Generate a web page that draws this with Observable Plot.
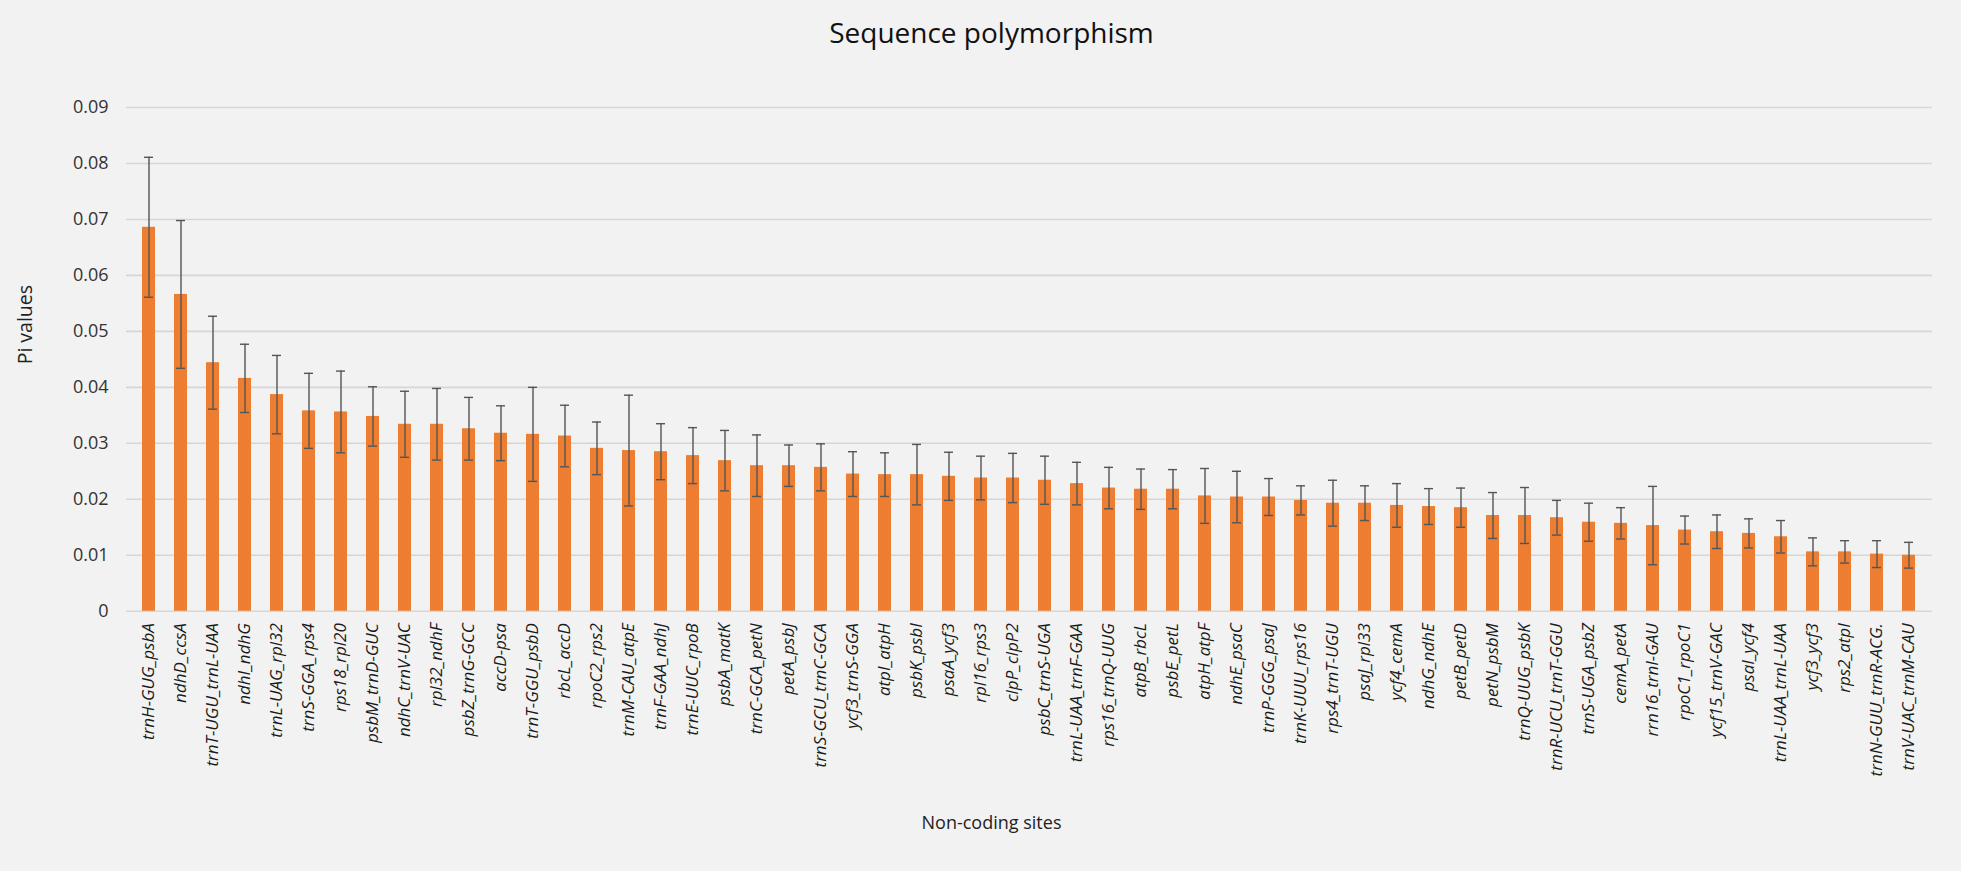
<!DOCTYPE html>
<html>
<head>
<meta charset="utf-8">
<script src="https://cdn.jsdelivr.net/npm/d3@7"></script>
<script src="https://cdn.jsdelivr.net/npm/@observablehq/plot@0.6"></script>
<style>
  html, body { margin: 0; padding: 0; background: #f2f2f2; }
  body { width: 1961px; height: 871px; overflow: hidden; font-family: "Open Sans", sans-serif; }
  #title { height: 64px; line-height: 64px; text-align: center; font-size: 28px; color: #111; padding-left: 22px; }
  #xtitle { height: 20px; line-height: 20px; text-align: center; font-size: 18px; color: #222; padding-left: 22px; }
  #chart svg { display: block; background: transparent; }
</style>
</head>
<body>
<div id="title">Sequence polymorphism</div>
<div id="chart"></div>
<div id="xtitle">Non-coding sites</div>
<script>
const sites = [
  "trnH-GUG_psbA", "ndhD_ccsA", "trnT-UGU_trnL-UAA", "ndhI_ndhG", "trnL-UAG_rpl32",
  "trnS-GGA_rps4", "rps18_rpl20", "psbM_trnD-GUC", "ndhC_trnV-UAC", "rpl32_ndhF",
  "psbZ_trnG-GCC", "accD-psa", "trnT-GGU_psbD", "rbcL_accD", "rpoC2_rps2",
  "trnM-CAU_atpE", "trnF-GAA_ndhJ", "trnE-UUC_rpoB", "psbA_matK", "trnC-GCA_petN",
  "petA_psbJ", "trnS-GCU_trnC-GCA", "ycf3_trnS-GGA", "atpI_atpH", "psbK_psbI",
  "psaA_ycf3", "rpl16_rps3", "clpP_clpP2", "psbC_trnS-UGA", "trnL-UAA_trnF-GAA",
  "rps16_trnQ-UUG", "atpB_rbcL", "psbE_petL", "atpH_atpF", "ndhE_psaC",
  "trnP-GGG_psaJ", "trnK-UUU_rps16", "rps4_trnT-UGU", "psaJ_rpl33", "ycf4_cemA",
  "ndhG_ndhE", "petB_petD", "petN_psbM", "trnQ-UUG_psbK", "trnR-UCU_trnT-GGU",
  "trnS-UGA_psbZ", "cemA_petA", "rrn16_trnI-GAU", "rpoC1_rpoC1", "ycf15_trnV-GAC",
  "psaI_ycf4", "trnL-UAA_trnL-UAA", "ycf3_ycf3", "rps2_atpI", "trnN-GUU_trnR-ACG.",
  "trnV-UAC_trnM-CAU"
];
const piValues = [
  0.0686, 0.0566, 0.0444, 0.0416, 0.0387, 0.0358, 0.0356, 0.0348, 0.0334, 0.0334,
  0.0326, 0.0318, 0.0316, 0.0313, 0.0291, 0.0287, 0.0285, 0.0278, 0.0269, 0.0260,
  0.0260, 0.0257, 0.0245, 0.0244, 0.0244, 0.0241, 0.0238, 0.0238, 0.0234, 0.0228,
  0.0220, 0.0218, 0.0218, 0.0206, 0.0204, 0.0204, 0.0198, 0.0193, 0.0193, 0.0189,
  0.0187, 0.0185, 0.0171, 0.0171, 0.0167, 0.0159, 0.0157, 0.0153, 0.0145, 0.0142,
  0.0139, 0.0133, 0.0106, 0.0106, 0.0102, 0.0100
];
const errors = [
  0.0125, 0.0132, 0.0083, 0.0061, 0.0070, 0.0067, 0.0073, 0.0053, 0.0059, 0.0064,
  0.0056, 0.0049, 0.0084, 0.0055, 0.0047, 0.0099, 0.0050, 0.0050, 0.0054, 0.0055,
  0.0037, 0.0042, 0.0040, 0.0039, 0.0054, 0.0043, 0.0039, 0.0044, 0.0043, 0.0038,
  0.0037, 0.0036, 0.0035, 0.0049, 0.0046, 0.0033, 0.0026, 0.0041, 0.0031, 0.0039,
  0.0032, 0.0035, 0.0041, 0.0050, 0.0031, 0.0034, 0.0028, 0.0070, 0.0025, 0.0030,
  0.0026, 0.0029, 0.0025, 0.0020, 0.0024, 0.0023
];
const yTicks = [0, 0.01, 0.02, 0.03, 0.04, 0.05, 0.06, 0.07, 0.08, 0.09];

const data = sites.map((s, i) => ({site: s, pi: piValues[i], lo: piValues[i] - errors[i], hi: piValues[i] + errors[i]}));

const chart = Plot.plot({
  width: 1961,
  height: 748,
  marginTop: 43,
  marginBottom: 201.3,
  marginLeft: 126,
  marginRight: 29.3,
  style: {background: "transparent", fontFamily: "Open Sans, sans-serif", color: "#333"},
  x: {domain: sites, paddingInner: 0.6, paddingOuter: 0.3, label: null},
  y: {domain: [0, 0.09], label: null},
  marks: [
    Plot.gridY(yTicks, {stroke: "#d6d6d6", strokeOpacity: 1, strokeWidth: 1.6}),
    Plot.axisY(yTicks, {tickSize: 0, tickPadding: 18, fontSize: 18, label: null, tickFormat: d => String(d), fill: "#333"}),
    Plot.axisX({tickSize: 0, tickPadding: 12, tickRotate: -90, fontSize: 17, fontStyle: "italic", label: null, fill: "#1a1a1a"}),
    Plot.barY(data, {x: "site", y: "pi", fill: "#ed7d31"}),
    Plot.ruleX(data, {x: "site", y1: "lo", y2: "hi", stroke: "#555", strokeWidth: 1.4}),
    Plot.tickY(data, {x: "site", y: "lo", stroke: "#555", strokeWidth: 1.4, insetLeft: 2, insetRight: 2}),
    Plot.tickY(data, {x: "site", y: "hi", stroke: "#555", strokeWidth: 1.4, insetLeft: 2, insetRight: 2}),
    Plot.text(["Pi values"], {frameAnchor: "left", dx: -101, dy: 5, rotate: -90, fontSize: 19.5, fill: "#222"})
  ]
});
document.getElementById("chart").appendChild(chart);
</script>
</body>
</html>
